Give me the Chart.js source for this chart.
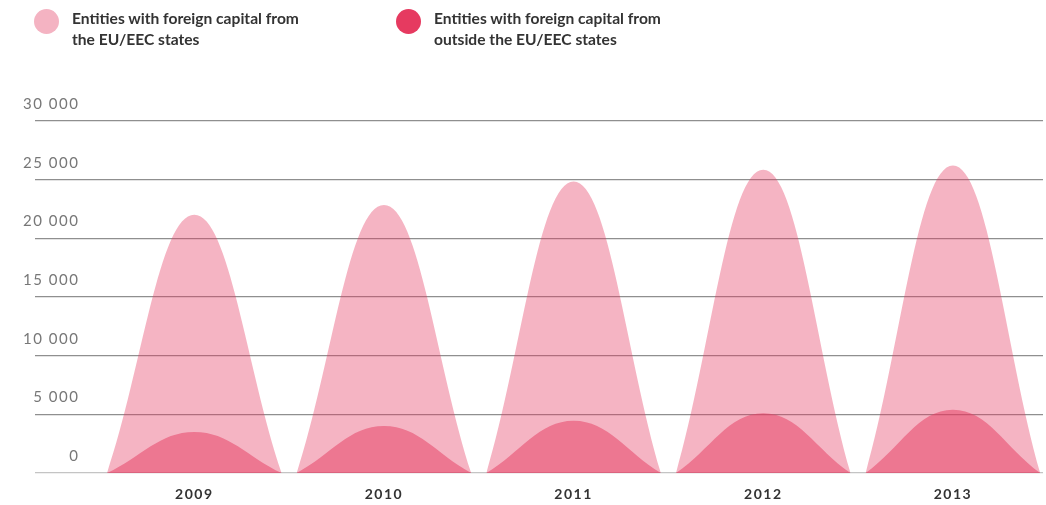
<!DOCTYPE html>
<html lang="en">
<head>
  <meta charset="UTF-8">
  <title>Entities with foreign capital</title>
  <script src="https://cdn.jsdelivr.net/npm/chart.js"></script>
  <style>
    body {
      margin: 0;
      background: white;
      font-family: 'Lato', sans-serif;
    }
    .wrap {
      position: relative;
      width: 1046px;
      height: 505px;
    }
    canvas {
      position: absolute;
      left: 0;
      top: 0;
    }
    .legend-item {
      position: absolute;
      top: 9px;
    }
    .dot {
      position: absolute;
      top: 0;
      width: 25px;
      height: 25px;
      border-radius: 50%;
    }
    .label {
      position: absolute;
      top: -1px;
      white-space: nowrap;
      font-size: 15.6px;
      font-weight: bold;
      line-height: 21px;
      color: #333;
    }
  </style>
</head>
<body>
  <div class="wrap">
    <canvas id="chart" width="1046" height="505"></canvas>
    <div class="legend-item" style="left:34px;">
      <div class="dot" style="left:0; background:#f4b3c2;"></div>
      <div class="label" style="left:38px;">Entities with foreign capital from<br>the EU/EEC states</div>
    </div>
    <div class="legend-item" style="left:396px;">
      <div class="dot" style="left:0; background:#e63a60;"></div>
      <div class="label" style="left:38px;">Entities with foreign capital from<br>outside the EU/EEC states</div>
    </div>
  </div>

  <script>
    const years = [2009, 2010, 2011, 2012, 2013];
    const euValues = [22000, 22850, 24850, 25850, 26200];
    const nonEuValues = [3500, 4000, 4450, 5100, 5400];
    const yTicks = [0, 5000, 10000, 15000, 20000, 25000, 30000];

    // each year is drawn as a hump: zero, peak, zero, then a gap
    const half = 0.46;
    function humps(values) {
      const pts = [];
      years.forEach((yr, i) => {
        pts.push({ x: yr - half, y: 0 });
        pts.push({ x: yr, y: values[i] });
        pts.push({ x: yr + half, y: 0 });
        pts.push({ x: yr + 0.5, y: null });
      });
      return pts;
    }

    function spaced(v) {
      return String(v).replace(/\B(?=(\d{3})+(?!\d))/g, ' ');
    }

    const letterSpacing = {
      id: 'letterSpacing',
      beforeLayout(chart) { chart.ctx.letterSpacing = '1.5px'; },
      beforeDraw(chart) { chart.ctx.letterSpacing = '1.5px'; }
    };

    new Chart(document.getElementById('chart'), {
      type: 'line',
      data: {
        datasets: [
          {
            label: 'Entities with foreign capital from the EU/EEC states',
            data: humps(euValues),
            fill: 'origin',
            backgroundColor: 'rgba(230, 58, 96, 0.38)',
            borderWidth: 0,
            pointRadius: 0,
            tension: 0.4,
            spanGaps: false
          },
          {
            label: 'Entities with foreign capital from outside the EU/EEC states',
            data: humps(nonEuValues),
            fill: 'origin',
            backgroundColor: 'rgba(230, 58, 96, 0.5)',
            borderWidth: 0,
            pointRadius: 0,
            tension: 0.4,
            spanGaps: false
          }
        ]
      },
      options: {
        responsive: false,
        animation: false,
        devicePixelRatio: 1,
        layout: { padding: { left: 35, right: 3, top: 121, bottom: 0 } },
        plugins: {
          legend: { display: false },
          tooltip: { enabled: false }
        },
        scales: {
          x: {
            type: 'linear',
            min: 2008.16,
            max: 2013.475,
            afterBuildTicks: axis => { axis.ticks = years.map(v => ({ value: v })); },
            afterFit: axis => { axis.height = 32; },
            grid: { display: false, drawTicks: false },
            border: { display: false },
            ticks: {
              padding: 13,
              color: '#333',
              font: { family: 'Lato', size: 14, weight: 'bold' },
              callback: v => String(v)
            }
          },
          y: {
            min: 0,
            max: 30000,
            afterBuildTicks: axis => { axis.ticks = yTicks.map(v => ({ value: v })); },
            afterFit: axis => { axis.width = 0; },
            grid: {
              drawTicks: false,
              color: ctx => ctx.tick && ctx.tick.value === 0 ? '#c4c4c4' : '#8f8f8f',
              lineWidth: 1.2
            },
            border: { display: false },
            ticks: {
              mirror: true,
              crossAlign: 'far',
              padding: -12,
              labelOffset: -17,
              color: '#777',
              font: { family: 'Lato', size: 15 },
              callback: v => spaced(v)
            }
          }
        }
      },
      plugins: [letterSpacing]
    });
  </script>
</body>
</html>
